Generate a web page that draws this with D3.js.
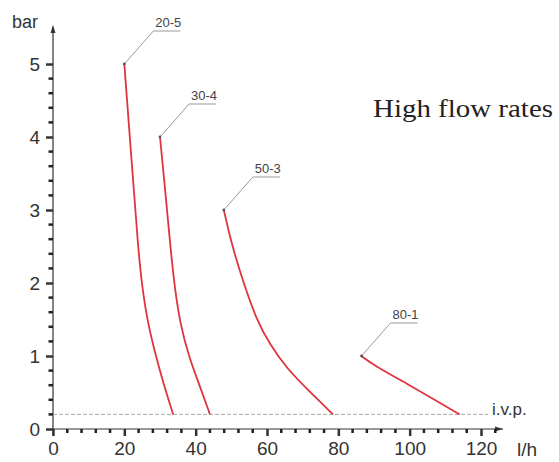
<!DOCTYPE html>
<html>
<head>
<meta charset="utf-8">
<script src="https://cdn.jsdelivr.net/npm/d3@7"></script>
<style>
  html, body { margin: 0; padding: 0; background: #fff; }
  svg { display: block; }
</style>
</head>
<body>
<svg id="chart" width="559" height="462"></svg>
<script>
// ---- data ----
const xTickValues = [0, 20, 40, 60, 80, 100, 120];
const yTickValues = [0, 1, 2, 3, 4, 5];
const xLabel = "l/h";
const yLabel = "bar";
const title = "High flow rates";
const ivpLabel = "i.v.p.";
const ivpValue = 0.2;

const seriesNames = ["20-5", "30-4", "50-3", "80-1"];
const series20_5 = [[20.0, 5.0], [22.0, 3.7], [23.9, 2.45], [25.0, 1.95], [26.4, 1.5], [28.3, 1.1], [30.9, 0.63], [33.7, 0.2]];
const series30_4 = [[30.0, 4.0], [31.6, 3.2], [33.0, 2.45], [34.1, 1.95], [35.6, 1.45], [38.2, 0.97], [41.1, 0.60], [44.0, 0.2]];
const series50_3 = [[47.9, 3.0], [49.2, 2.72], [50.6, 2.45], [53.3, 2.02], [57.1, 1.49], [60.8, 1.16], [65.5, 0.83], [72.0, 0.51], [78.5, 0.2]];
const series80_1 = [[86.5, 1.0], [89.7, 0.88], [100.0, 0.60], [108.4, 0.36], [114.0, 0.2]];
const seriesValues = [series20_5, series30_4, series50_3, series80_1];

// ---- drawing ----
const svg = d3.select("#chart");
const x = d3.scaleLinear().domain([0, 120]).range([53, 481]);
const y = d3.scaleLinear().domain([0, 5]).range([429, 64]);
const font = "'Liberation Sans', Arial, sans-serif";
const axisColor = "#333";

// minor ticks
const xMinor = d3.range(0, 125, 4).filter(v => v % 20 !== 0);
const yMinor = d3.range(1, 25).map(v => v / 5).filter(v => v % 1 !== 0);

// x axis
const gx = svg.append("g").attr("transform", `translate(0,${y(0)})`);
gx.call(d3.axisBottom(x).tickValues(xTickValues).tickSize(7).tickPadding(6).tickSizeOuter(0).tickFormat(d3.format("d")));
gx.select(".domain").remove();
gx.append("line").attr("x1", x(0)).attr("x2", 503).attr("y1", 0).attr("y2", 0)
  .attr("stroke", axisColor).attr("stroke-width", 1.2);
gx.append("path").attr("d", "M503,0 L495,-2.5 L495,2.5 Z").attr("fill", axisColor);
gx.selectAll(".tick line").attr("stroke", axisColor).attr("stroke-width", 2.5);
gx.selectAll(".tick text").attr("fill", axisColor).style("font-family", font).style("font-size", "19px");
const gxm = svg.append("g").attr("class", "minor-x");
gxm.selectAll("rect").data(xMinor).enter().append("rect")
  .attr("x", d => x(d) - 1.25).attr("width", 2.5)
  .attr("y", y(0)).attr("height", 4)
  .attr("fill", "#222");

// y axis
const gy = svg.append("g").attr("transform", `translate(${x(0)},0)`);
gy.call(d3.axisLeft(y).tickValues(yTickValues).tickSize(7).tickPadding(6).tickSizeOuter(0).tickFormat(d3.format("d")));
gy.select(".domain").remove();
gy.append("line").attr("x1", 0).attr("x2", 0).attr("y1", y(0) + 6).attr("y2", 27)
  .attr("stroke", axisColor).attr("stroke-width", 1.2);
gy.append("path").attr("d", "M0,25 L-2.5,33 L2.5,33 Z").attr("fill", axisColor);
gy.selectAll(".tick line").attr("stroke", axisColor).attr("stroke-width", 2.5);
gy.selectAll(".tick text").attr("fill", axisColor).style("font-family", font).style("font-size", "19px");
const gym = svg.append("g").attr("class", "minor-y");
gym.selectAll("rect").data(yMinor).enter().append("rect")
  .attr("x", x(0) - 4.5).attr("width", 4.5)
  .attr("y", d => y(d) - 1.25).attr("height", 2.5)
  .attr("fill", "#222");

// axis labels
svg.append("text").attr("x", 12).attr("y", 28).text(yLabel)
  .attr("fill", axisColor).style("font-family", font).style("font-size", "18px");
svg.append("text").attr("x", 517).attr("y", 456).text(xLabel)
  .attr("fill", axisColor).style("font-family", font).style("font-size", "19px");

// i.v.p. line
svg.append("line").attr("x1", x(0)).attr("x2", 488).attr("y1", y(ivpValue)).attr("y2", y(ivpValue))
  .attr("stroke", "#aaa").attr("stroke-width", 1).attr("stroke-dasharray", "4,2");
svg.append("text").attr("x", 492).attr("y", y(ivpValue) + 1).text(ivpLabel)
  .attr("fill", axisColor).style("font-family", font).style("font-size", "17px");

// curves
const line = d3.line().x(d => x(d[0])).y(d => y(d[1])).curve(d3.curveBasis);
svg.selectAll("path.curve").data(seriesValues).enter().append("path")
  .attr("class", "curve")
  .attr("d", line)
  .attr("fill", "none")
  .attr("stroke", "#e0343e")
  .attr("stroke-width", 1.8);

// leader lines + labels
const leaderDx = 29, leaderDy = -33, underline = 27;
seriesValues.forEach((s, i) => {
  const px = x(s[0][0]), py = y(s[0][1]);
  const kx = px + leaderDx, ky = py + leaderDy;
  svg.append("path")
    .attr("d", `M${px},${py} L${kx},${ky} L${kx + underline},${ky}`)
    .attr("fill", "none").attr("stroke", "#999").attr("stroke-width", 1);
  svg.append("circle").attr("cx", px).attr("cy", py).attr("r", 1.4).attr("fill", "#555");
  svg.append("text").attr("x", kx + 2).attr("y", ky - 4).text(seriesNames[i])
    .attr("fill", "#444").style("font-family", font).style("font-size", "13px");
});

// title
svg.append("text").attr("x", 373).attr("y", 117).text(title)
  .attr("fill", "#222").style("font-family", "'Liberation Serif', 'Times New Roman', serif")
  .style("font-size", "25px")
  .attr("textLength", 180).attr("lengthAdjust", "spacingAndGlyphs");
</script>
</body>
</html>
